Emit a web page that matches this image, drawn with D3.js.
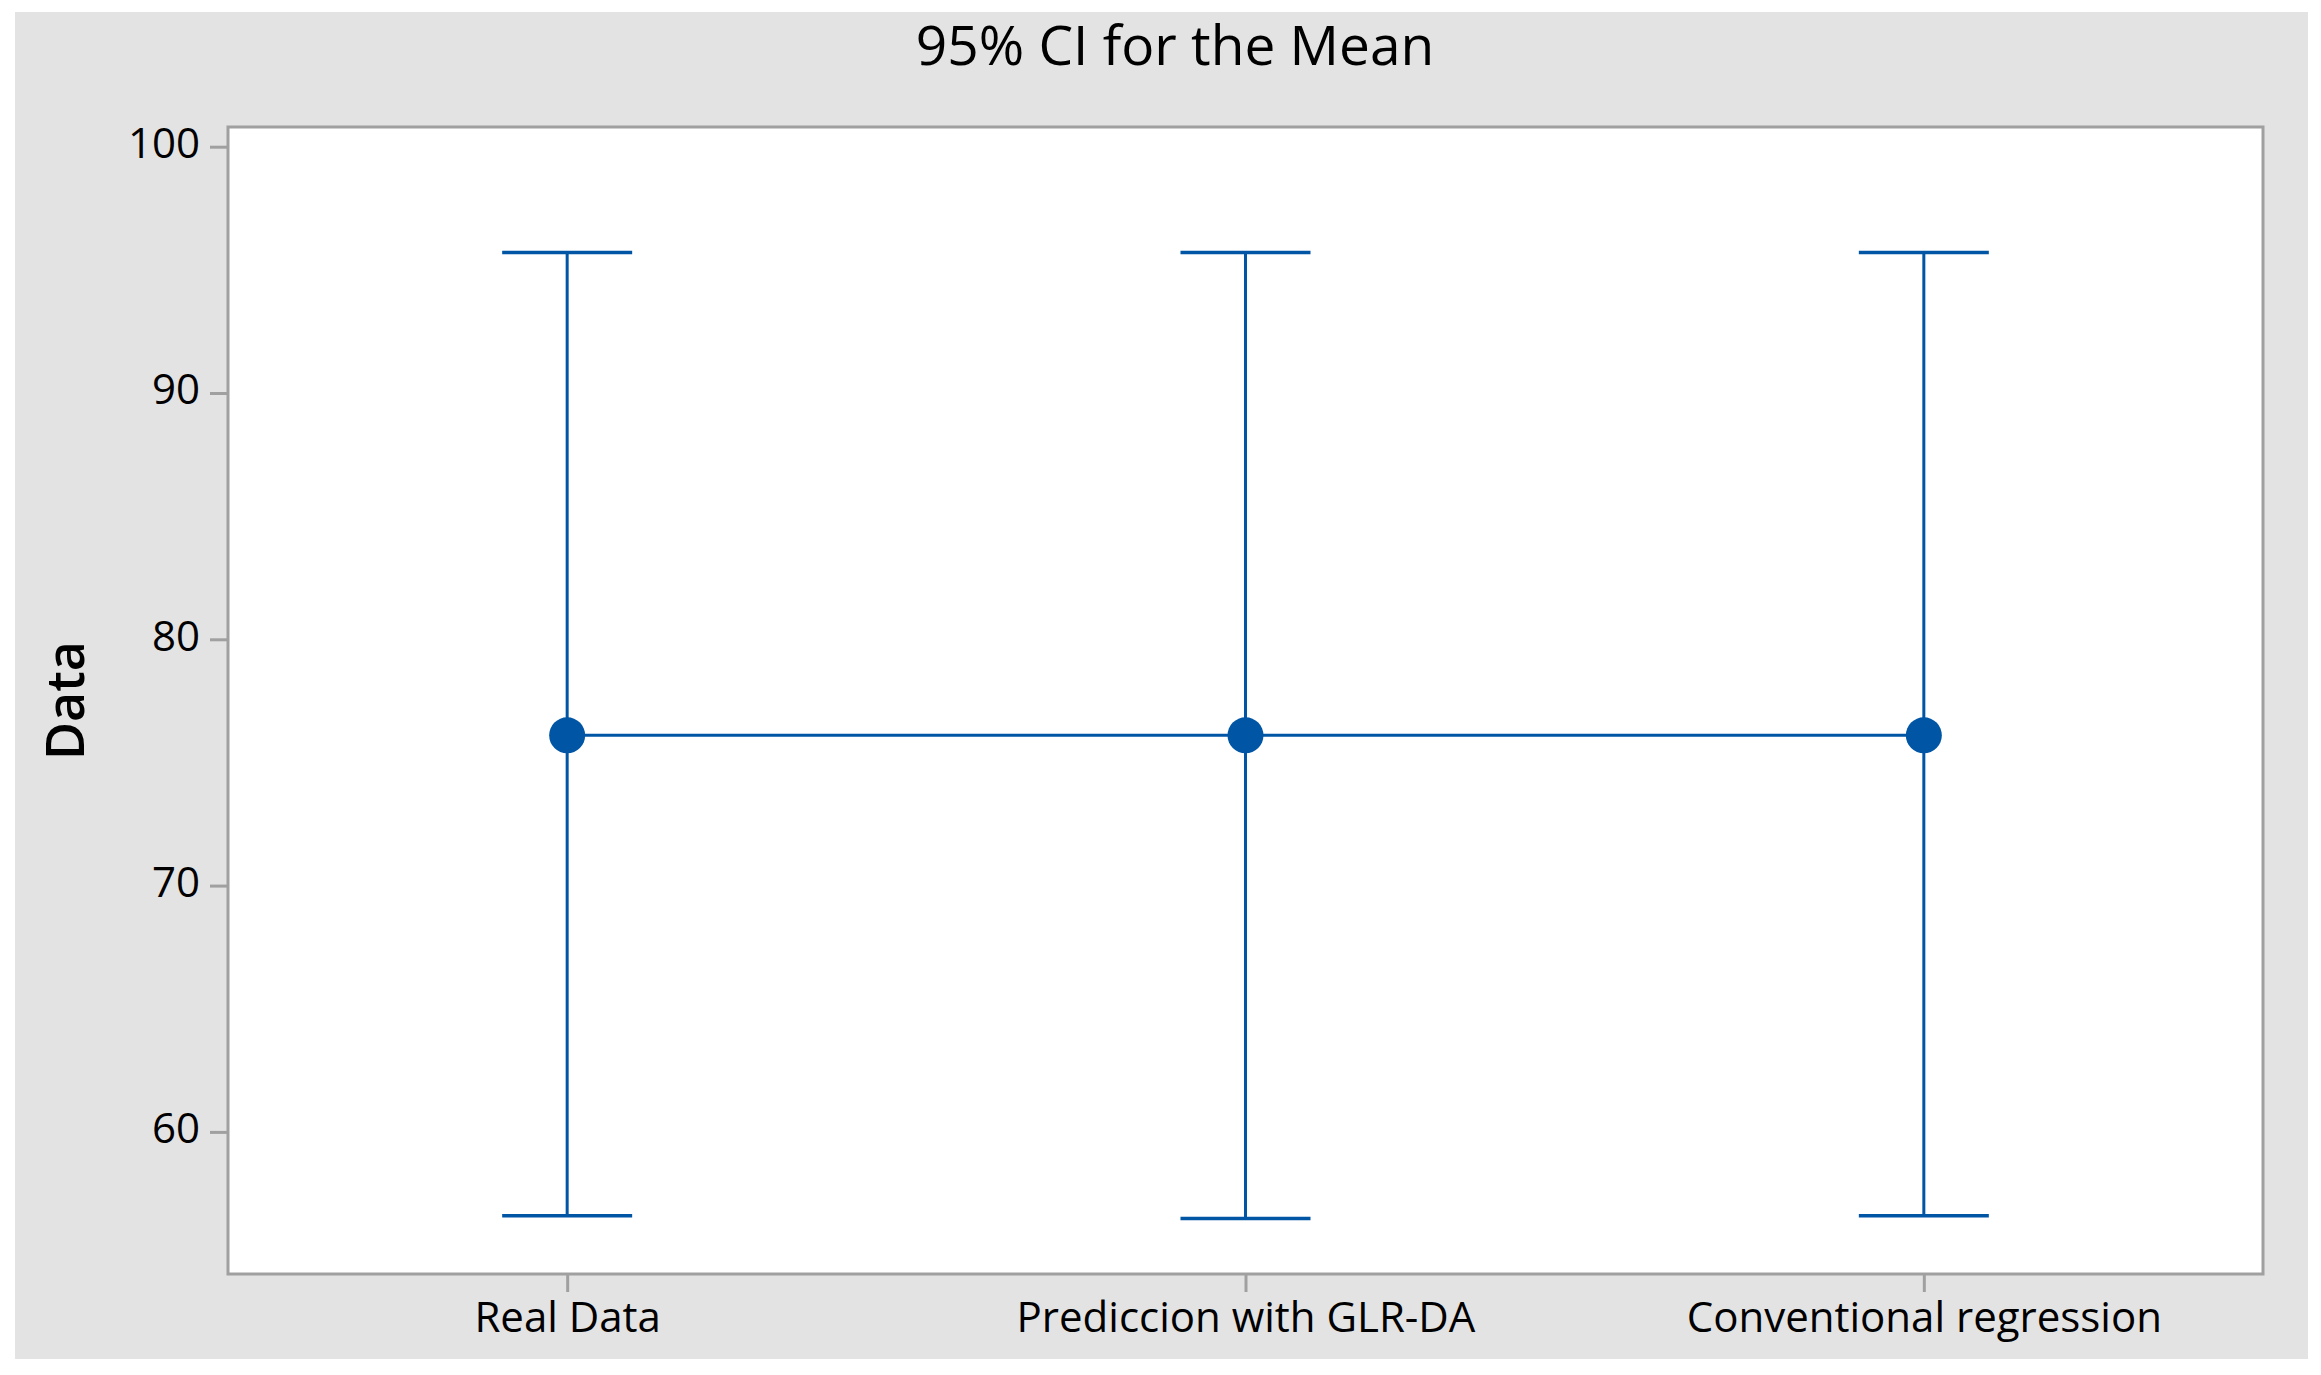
<!DOCTYPE html>
<meta charset="utf-8">
<style>
    html, body {
        margin: 0;
        background: white;
    }

    text {
        font-family: "Open Sans", "Noto Sans", sans-serif;
        fill: black;
    }

    .frame {
        fill: white;
        stroke: #a0a0a0;
        stroke-width: 3px;
    }

    .axis path {
        display: none;
    }

    .axis line {
        stroke: #a0a0a0;
        stroke-width: 3px;
    }

    .axis text {
        font-size: 42px;
    }
</style>
<div id="container"></div>
<script src="https://cdnjs.cloudflare.com/ajax/libs/d3/7.8.5/d3.min.js"></script>
<script>
    // data
    var categories = ["Real Data", "Prediccion with GLR-DA", "Conventional regression"];
    var means = [76.1, 76.1, 76.1];
    var lower = [56.6, 56.48, 56.6];
    var upper = [95.7, 95.7, 95.7];
    var yTicks = [60, 70, 80, 90, 100];

    var width = 2321, height = 1375;
    var blue = "#0055a5";

    var svg = d3.select("div#container")
        .append("svg")
        .attr("width", width)
        .attr("height", height);

    // grey outer panel
    svg.append("rect")
        .attr("x", 15)
        .attr("y", 12)
        .attr("width", 2293)
        .attr("height", 1347)
        .attr("fill", "#e3e3e3");

    // plot area
    var plot = {left: 228, right: 2263, top: 127, bottom: 1274};

    svg.append("rect")
        .attr("class", "frame")
        .attr("x", plot.left)
        .attr("y", plot.top)
        .attr("width", plot.right - plot.left)
        .attr("height", plot.bottom - plot.top);

    // scales
    var x = d3.scalePoint()
        .domain(categories)
        .range([plot.left, plot.right])
        .padding(0.5);

    var y = d3.scaleLinear()
        .domain([54.23, 100.8])
        .range([plot.bottom, plot.top]);

    // axes
    svg.append("g")
        .attr("class", "axis")
        .attr("transform", "translate(" + plot.left + ",0)")
        .call(d3.axisLeft(y).tickValues(yTicks).tickSize(18).tickPadding(10))
        .selectAll("text")
        .attr("dy", "0.26em");

    svg.append("g")
        .attr("class", "axis")
        .attr("transform", "translate(0," + plot.bottom + ")")
        .call(d3.axisBottom(x).tickSize(18).tickPadding(10));

    // title and y label
    svg.append("text")
        .attr("x", 1175)
        .attr("y", 65)
        .attr("text-anchor", "middle")
        .style("font-size", "55px")
        .text("95% CI for the Mean");

    svg.append("text")
        .attr("transform", "translate(84," + ((plot.top + plot.bottom) / 2) + ") rotate(-90)")
        .attr("text-anchor", "middle")
        .style("font-size", "52px")
        .style("font-weight", 600)
        .text("Data");

    // interval bars
    var rows = categories.map(function(c, i) {
        return {cat: c, mean: means[i], lo: lower[i], hi: upper[i]};
    });

    var marks = svg.append("g");

    // line joining the means
    marks.append("path")
        .datum(rows)
        .attr("fill", "none")
        .attr("stroke", blue)
        .attr("stroke-width", 3)
        .attr("d", d3.line()
            .x(function(d) { return x(d.cat); })
            .y(function(d) { return y(d.mean); }));

    var bar = marks.selectAll("g.bar")
        .data(rows)
        .enter().append("g")
        .attr("class", "bar");

    bar.append("line")
        .attr("x1", function(d) { return x(d.cat); })
        .attr("x2", function(d) { return x(d.cat); })
        .attr("y1", function(d) { return y(d.lo); })
        .attr("y2", function(d) { return y(d.hi); })
        .attr("stroke", blue)
        .attr("stroke-width", 3);

    ["lo", "hi"].forEach(function(k) {
        bar.append("line")
            .attr("x1", function(d) { return x(d.cat) - 65; })
            .attr("x2", function(d) { return x(d.cat) + 65; })
            .attr("y1", function(d) { return y(d[k]); })
            .attr("y2", function(d) { return y(d[k]); })
            .attr("stroke", blue)
            .attr("stroke-width", 3.5);
    });

    bar.append("circle")
        .attr("cx", function(d) { return x(d.cat); })
        .attr("cy", function(d) { return y(d.mean); })
        .attr("r", 18)
        .attr("fill", blue);
</script>
